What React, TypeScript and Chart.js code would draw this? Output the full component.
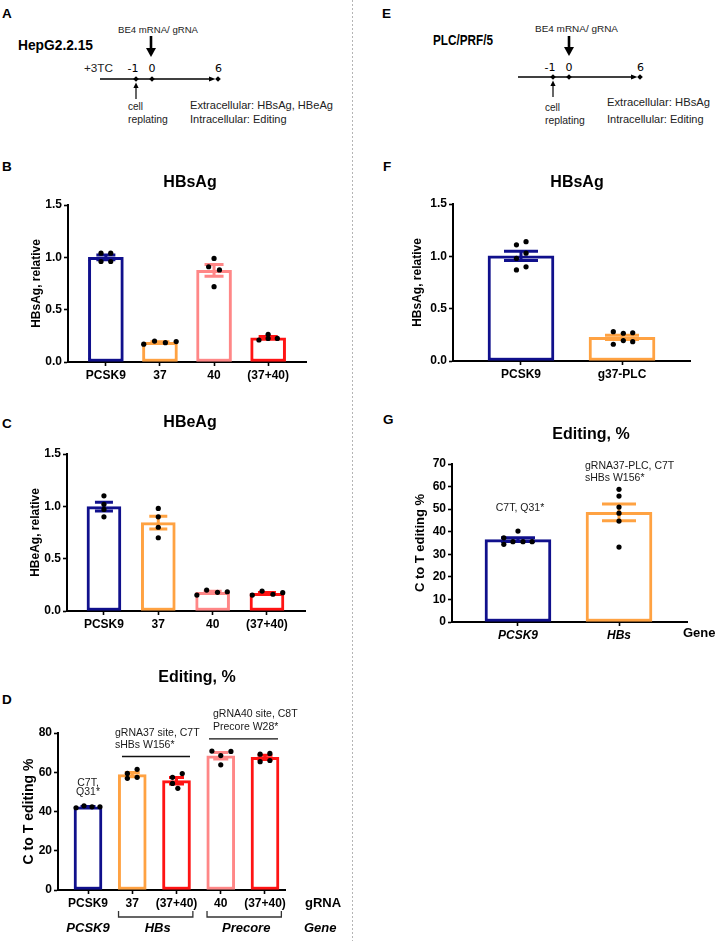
import React, { useEffect, useRef } from 'react';
import { Chart, registerables } from 'chart.js';

Chart.register(...registerables);

const FONT = "'Liberation Sans', Arial, Helvetica, sans-serif";
Chart.defaults.font.family = FONT;
Chart.defaults.color = '#000';

const NAVY = '#10108c';
const ORANGE = '#ffa242';
const PINK = '#ff8787';
const RED = '#ff1414';

// ---------- B: HBsAg (HepG2.2.15) ----------
const hbsLabels = ['PCSK9', '37', '40', '(37+40)'];
const hbsValues = [
  [1.04, 1.04, 0.96, 0.96],
  [0.17, 0.2, 0.185, 0.195],
  [0.99, 0.91, 0.88, 0.72],
  [0.21, 0.225, 0.265, 0.225],
];
const hbsJitter = [
  [-0.09, 0.09, -0.09, 0.09],
  [-0.3, -0.1, 0.1, 0.3],
  [0, -0.1, 0.1, 0],
  [-0.17, 0, 0, 0.17],
];
const hepColors = [NAVY, ORANGE, PINK, RED];
const relTicks = [0, 0.5, 1.0, 1.5];

// ---------- C: HBeAg (HepG2.2.15) ----------
const hbeLabels = ['PCSK9', '37', '40', '(37+40)'];
const hbeValues = [
  [1.1, 1.02, 0.97, 0.9],
  [0.98, 0.9, 0.8, 0.7],
  [0.152, 0.2, 0.178, 0.184],
  [0.152, 0.19, 0.16, 0.175],
];
const hbeJitter = [
  [0, 0, 0, 0],
  [0, 0, 0, 0],
  [-0.29, -0.11, 0.09, 0.27],
  [-0.27, -0.09, 0.11, 0.29],
];

// ---------- D: Editing % (HepG2.2.15) ----------
const editLabels = ['PCSK9', '37', '(37+40)', '40', '(37+40)'];
const editValues = [
  [41.9, 42.9, 42.4, 42.4],
  [59.4, 61.5, 56.9, 57.4],
  [57.4, 59.3, 54.3, 51.8],
  [70.8, 70.6, 68.5, 63.8],
  [69.2, 69.6, 65.4, 66.0],
];
const editJitter = [
  [-0.27, -0.09, 0.09, 0.27],
  [-0.11, 0.11, -0.11, 0.11],
  [-0.09, 0.13, -0.09, 0.03],
  [-0.2, 0.23, 0, 0],
  [-0.11, 0.11, -0.11, 0.11],
];
const editColors = [NAVY, ORANGE, RED, PINK, RED];
const editTicks = [0, 20, 40, 60, 80];
const editGenes = ['PCSK9', 'HBs', 'Precore'];
const editGeneSpans = [[0, 0], [1, 2], [3, 4]];
const editNotes = [
  { text: 'gRNA37 site, C7T', x: 0.61, y: 80 },
  { text: 'sHBs W156*', x: 0.61, y: 74 },
  { text: 'gRNA40 site, C8T', x: 2.825, y: 89.7 },
  { text: 'Precore W28*', x: 2.825, y: 83.1 },
  { text: 'C7T,', x: 0, y: 54.5, align: 'center' },
  { text: 'Q31*', x: 0, y: 49.9, align: 'center' },
];
const editLines = [
  { x1: 0.768, x2: 2.305, y: 68 },
  { x1: 2.734, x2: 4.294, y: 77 },
];

// ---------- F: HBsAg (PLC/PRF/5) ----------
const plcLabels = ['PCSK9', 'g37-PLC'];
const plcValues = [
  [1.11, 1.14, 1.03, 0.98, 0.87, 0.9],
  [0.28, 0.265, 0.27, 0.16, 0.195, 0.185],
];
const plcJitter = [
  [-0.045, 0.05, 0.05, -0.045, -0.045, 0.05],
  [-0.086, 0.013, 0.106, -0.086, 0.013, 0.106],
];
const plcColors = [NAVY, ORANGE];

// ---------- G: Editing % (PLC/PRF/5) ----------
const plcEditLabels = ['PCSK9', 'HBs'];
const plcEditValues = [
  [37.3, 40.3, 34.4, 35.6, 35.6, 35.6],
  [58.8, 55.8, 50.9, 48.2, 44.7, 33.2],
];
const plcEditJitter = [
  [-0.14, 0, -0.14, -0.05, 0.05, 0.14],
  [0, 0, 0, 0, 0, 0],
];
const plcEditTicks = [0, 10, 20, 30, 40, 50, 60, 70];
const plcEditNotes = [
  { text: 'C7T, Q31*', x: 0.02, y: 50.5, align: 'center' },
  { text: 'gRNA37-PLC, C7T', x: 0.663, y: 69.1 },
  { text: 'sHBs W156*', x: 0.663, y: 63.8 },
];

type Note = { text: string; x: number; y: number; align?: string };
type Seg = { x1: number; x2: number; y: number };
type Side = { text: string; x: number; y: number; font: string };

interface PanelCfg {
  box: { x: number; y: number; w: number; h: number };
  area: { l: number; t: number; r: number; b: number };
  labels: string[];
  values: number[][];
  jitter: number[][];
  colors: string[];
  yTicks: number[];
  decimals: number;
  xRange: [number, number];
  title: string;
  titleAt: [number, number];
  yTitle: string;
  yTitleSize: number;
  yTitleX: number;
  barWidth: number;
  capWidth: number;
  italicX?: boolean;
  notes?: Note[];
  lines?: Seg[];
  genes?: { names: string[]; spans: number[][] };
  side?: Side[];
}

const panelB: PanelCfg = {
  box: { x: 0, y: 150, w: 352, h: 240 },
  area: { l: 68, t: 205, r: 306, b: 362 },
  labels: hbsLabels, values: hbsValues, jitter: hbsJitter, colors: hepColors,
  yTicks: relTicks, decimals: 1, xRange: [-0.7, 3.7],
  title: 'HBsAg', titleAt: [190, 183],
  yTitle: 'HBsAg, relative', yTitleSize: 12, yTitleX: 37,
  barWidth: 35, capWidth: 19,
};

const panelC: PanelCfg = {
  box: { x: 0, y: 400, w: 352, h: 240 },
  area: { l: 67, t: 454, r: 305, b: 611 },
  labels: hbeLabels, values: hbeValues, jitter: hbeJitter, colors: hepColors,
  yTicks: relTicks, decimals: 1, xRange: [-0.68, 3.7],
  title: 'HBeAg', titleAt: [190, 423],
  yTitle: 'HBeAg, relative', yTitleSize: 12, yTitleX: 36,
  barWidth: 34, capWidth: 18,
};

const panelD: PanelCfg = {
  box: { x: 0, y: 650, w: 352, h: 291 },
  area: { l: 58, t: 733, r: 285, b: 890 },
  labels: editLabels, values: editValues, jitter: editJitter, colors: editColors,
  yTicks: editTicks, decimals: 0, xRange: [-0.678, 4.452],
  title: 'Editing, %', titleAt: [197, 678],
  yTitle: 'C to T editing %', yTitleSize: 14, yTitleX: 29,
  barWidth: 28, capWidth: 15,
  notes: editNotes, lines: editLines,
  genes: { names: editGenes, spans: editGeneSpans },
  side: [
    { text: 'gRNA', x: 305, y: 903, font: `bold 13px ${FONT}` },
    { text: 'Gene', x: 304, y: 928, font: `italic bold 13px ${FONT}` },
  ],
};

const panelF: PanelCfg = {
  box: { x: 360, y: 150, w: 356, h: 240 },
  area: { l: 453, t: 204, r: 690, b: 361 },
  labels: plcLabels, values: plcValues, jitter: plcJitter, colors: plcColors,
  yTicks: relTicks, decimals: 1, xRange: [-0.673, 1.673],
  title: 'HBsAg', titleAt: [577, 183],
  yTitle: 'HBsAg, relative', yTitleSize: 12, yTitleX: 418,
  barWidth: 66, capWidth: 34,
};

const panelG: PanelCfg = {
  box: { x: 360, y: 400, w: 356, h: 260 },
  area: { l: 452, t: 464, r: 687, b: 622 },
  labels: plcEditLabels, values: plcEditValues, jitter: plcEditJitter, colors: plcColors,
  yTicks: plcEditTicks, decimals: 0, xRange: [-0.653, 1.673],
  title: 'Editing, %', titleAt: [591, 435],
  yTitle: 'C to T editing %', yTitleSize: 13, yTitleX: 420,
  barWidth: 66, capWidth: 34, italicX: true,
  notes: plcEditNotes,
  side: [{ text: 'Gene', x: 683, y: 633, font: `bold 13px ${FONT}` }],
};

const panels = [panelB, panelC, panelD, panelF, panelG];

function summarize(vals: number[][]) {
  return vals.map((v) => {
    const n = v.length;
    const mean = v.reduce((a, b) => a + b, 0) / n;
    const sd = Math.sqrt(v.reduce((a, b) => a + (b - mean) * (b - mean), 0) / (n - 1));
    return { mean, sem: sd / Math.sqrt(n) };
  });
}

function decorPlugin(cfg: PanelCfg, stats: { mean: number; sem: number }[]) {
  return {
    id: 'decor',
    afterDatasetDraw(chart: any, args: any) {
      if (args.index !== 0) return;
      const xs = chart.scales.x;
      const ys = chart.scales.y;
      const ctx = chart.ctx;
      ctx.save();
      ctx.lineWidth = 3;
      stats.forEach((s, i) => {
        const px = xs.getPixelForValue(i);
        const top = ys.getPixelForValue(s.mean + s.sem);
        const bot = ys.getPixelForValue(Math.max(0, s.mean - s.sem));
        const hw = cfg.capWidth / 2;
        ctx.strokeStyle = cfg.colors[i];
        ctx.beginPath();
        ctx.moveTo(px, top);
        ctx.lineTo(px, bot);
        ctx.moveTo(px - hw, top);
        ctx.lineTo(px + hw, top);
        ctx.moveTo(px - hw, bot);
        ctx.lineTo(px + hw, bot);
        ctx.stroke();
      });
      ctx.restore();
    },
    afterDraw(chart: any) {
      const ctx = chart.ctx;
      const xs = chart.scales.x;
      const ys = chart.scales.y;
      const ox = cfg.box.x;
      const oy = cfg.box.y;
      ctx.save();
      ctx.fillStyle = '#000';
      ctx.textBaseline = 'middle';
      ctx.font = `bold 16px ${FONT}`;
      ctx.textAlign = 'center';
      ctx.fillText(cfg.title, cfg.titleAt[0] - ox, cfg.titleAt[1] - oy);

      ctx.font = `10.5px ${FONT}`;
      ctx.fillStyle = '#1a1a1a';
      for (const n of cfg.notes ?? []) {
        ctx.textAlign = (n.align as CanvasTextAlign) ?? 'left';
        ctx.fillText(n.text, xs.getPixelForValue(n.x), ys.getPixelForValue(n.y));
      }
      ctx.strokeStyle = '#111';
      ctx.lineWidth = 1.4;
      for (const l of cfg.lines ?? []) {
        const y = ys.getPixelForValue(l.y);
        ctx.beginPath();
        ctx.moveTo(xs.getPixelForValue(l.x1), y);
        ctx.lineTo(xs.getPixelForValue(l.x2), y);
        ctx.stroke();
      }
      if (cfg.genes) {
        const base = chart.chartArea.bottom;
        ctx.fillStyle = '#000';
        ctx.strokeStyle = '#333';
        ctx.lineWidth = 1.3;
        cfg.genes.names.forEach((name, k) => {
          const [a, b] = cfg.genes!.spans[k];
          const single = a === b;
          const xa = xs.getPixelForValue(single ? a : a - 0.31);
          const xb = xs.getPixelForValue(single ? b : b + 0.37);
          if (!single) {
            ctx.beginPath();
            ctx.moveTo(xa, base + 21);
            ctx.lineTo(xa, base + 27);
            ctx.lineTo(xb, base + 27);
            ctx.lineTo(xb, base + 21);
            ctx.stroke();
          }
          ctx.font = `italic bold 13px ${FONT}`;
          ctx.textAlign = 'center';
          ctx.fillText(name, (xa + xb) / 2 + (single ? 0 : 2), base + 38);
        });
      }
      ctx.fillStyle = '#000';
      for (const s of cfg.side ?? []) {
        ctx.font = s.font;
        ctx.textAlign = 'left';
        ctx.fillText(s.text, s.x - ox, s.y - oy);
      }
      ctx.restore();
    },
  };
}

function buildChart(canvas: HTMLCanvasElement, cfg: PanelCfg) {
  const stats = summarize(cfg.values);
  const { box, area } = cfg;
  const padL = cfg.yTitleX - box.x - (cfg.yTitleSize * 1.2) / 2;
  const yW = area.l - box.x - padL;
  const padT = area.t - box.y;
  const padR = box.x + box.w - area.r;
  const xH = box.y + box.h - area.b;
  const tickFont = { size: 12, weight: 'bold' as const };

  const bars = stats.map((s, i) => ({ x: i, y: s.mean }));
  const dots = cfg.values.flatMap((vals, i) => vals.map((v, j) => ({ x: i + cfg.jitter[i][j], y: v })));

  return new Chart(canvas, {
    type: 'bar',
    data: {
      datasets: [
        {
          type: 'bar',
          data: bars as any,
          backgroundColor: '#ffffff',
          borderColor: cfg.colors,
          borderWidth: 3,
          borderSkipped: false,
          barThickness: cfg.barWidth,
          order: 2,
        } as any,
        {
          type: 'scatter',
          data: dots as any,
          pointRadius: 2.6,
          pointBackgroundColor: '#000',
          pointBorderWidth: 0,
          order: 1,
        } as any,
      ],
    },
    options: {
      animation: false,
      responsive: false,
      events: [],
      layout: { padding: { left: padL, top: padT, right: padR, bottom: 0 } },
      plugins: { legend: { display: false }, tooltip: { enabled: false }, title: { display: false } },
      scales: {
        x: {
          type: 'linear',
          min: cfg.xRange[0],
          max: cfg.xRange[1],
          offset: false,
          grid: { display: true, drawOnChartArea: false, offset: false, tickLength: 4, tickWidth: 1.6, tickColor: '#000' },
          border: { display: true, color: '#000', width: 2 },
          ticks: {
            autoSkip: false,
            maxRotation: 0,
            minRotation: 0,
            padding: 2,
            color: '#000',
            font: cfg.italicX ? { size: 12, weight: 'bold', style: 'italic' } : tickFont,
            callback: (v: any) => cfg.labels[Math.round(Number(v))] ?? '',
          },
          afterBuildTicks: (s: any) => {
            s.ticks = cfg.labels.map((_, i) => ({ value: i }));
          },
          afterFit: (s: any) => {
            s.height = xH;
          },
        } as any,
        y: {
          type: 'linear',
          min: 0,
          max: cfg.yTicks[cfg.yTicks.length - 1],
          grid: { display: true, drawOnChartArea: false, tickLength: 4, tickWidth: 1.6, tickColor: '#000' },
          border: { display: true, color: '#000', width: 2 },
          ticks: {
            padding: 2,
            color: '#000',
            font: tickFont,
            callback: (v: any) => Number(v).toFixed(cfg.decimals),
          },
          title: {
            display: true,
            text: cfg.yTitle,
            color: '#000',
            padding: 0,
            font: { size: cfg.yTitleSize, weight: 'bold' },
          },
          afterBuildTicks: (s: any) => {
            s.ticks = cfg.yTicks.map((v) => ({ value: v }));
          },
          afterFit: (s: any) => {
            s.width = yW;
          },
        } as any,
      },
    },
    plugins: [decorPlugin(cfg, stats) as any],
  });
}

function PanelChart({ cfg }: { cfg: PanelCfg }) {
  const ref = useRef<HTMLCanvasElement>(null);
  useEffect(() => {
    if (!ref.current) return;
    const chart = buildChart(ref.current, cfg);
    return () => chart.destroy();
  }, [cfg]);
  const { box } = cfg;
  return (
    <canvas
      ref={ref}
      width={box.w}
      height={box.h}
      style={{ position: 'absolute', left: box.x, top: box.y, width: box.w, height: box.h }}
    />
  );
}

const diamond = (cx: number, cy: number, r = 2.8) =>
  `${cx},${cy - r} ${cx + r},${cy} ${cx},${cy + r} ${cx - r},${cy}`;

interface TimelineCfg {
  name: string; nameX: number; nameY: number; nameLen: number;
  be4X: number; be4Y: number; be4Len: number;
  arrowX: number; arrowTop: number; arrowBot: number;
  pre?: { text: string; x: number; len: number };
  numY: number; days: number[]; lineY: number; lineStart: number;
  cellX: number; cellY: number; repY: number;
  ext: string; extX: number; extY: number; extLen: number; intY: number;
}

const timelineA: TimelineCfg = {
  name: 'HepG2.2.15', nameX: 18, nameY: 50, nameLen: 75,
  be4X: 118, be4Y: 32.5, be4Len: 80,
  arrowX: 151, arrowTop: 36, arrowBot: 57,
  pre: { text: '+3TC', x: 84, len: 29 },
  numY: 72, days: [136, 152, 218], lineY: 79, lineStart: 100,
  cellX: 128, cellY: 110, repY: 123,
  ext: 'Extracellular: HBsAg, HBeAg', extX: 190, extY: 109, extLen: 143, intY: 123,
};

const timelineE: TimelineCfg = {
  name: 'PLC/PRF/5', nameX: 433, nameY: 45, nameLen: 60,
  be4X: 535, be4Y: 31.5, be4Len: 83,
  arrowX: 569, arrowTop: 36, arrowBot: 56,
  numY: 70.5, days: [553, 569, 640], lineY: 77, lineStart: 518,
  cellX: 545, cellY: 111, repY: 124,
  ext: 'Extracellular: HBsAg', extX: 607, extY: 106, extLen: 103, intY: 123,
};

const dayLabels = ['-1', '0', '6'];
const dayLabelShift = [-3, 0, 0.5];

function Timeline({ t }: { t: TimelineCfg }) {
  const last = t.days[t.days.length - 1];
  return (
    <g fill="#000" fontFamily={FONT}>
      <text x={t.nameX} y={t.nameY} fontSize={14} fontWeight="bold" textLength={t.nameLen} lengthAdjust="spacingAndGlyphs">
        {t.name}
      </text>
      <text x={t.be4X} y={t.be4Y} fontSize={9.6} textLength={t.be4Len} lengthAdjust="spacingAndGlyphs" fill="#222">
        BE4 mRNA/ gRNA
      </text>
      <line x1={t.arrowX} y1={t.arrowTop} x2={t.arrowX} y2={t.arrowBot - 8} stroke="#000" strokeWidth={2.6} />
      <polygon points={`${t.arrowX - 5},${t.arrowBot - 9} ${t.arrowX + 5},${t.arrowBot - 9} ${t.arrowX},${t.arrowBot}`} />
      {t.pre && (
        <text x={t.pre.x} y={t.numY} fontSize={10.5} textLength={t.pre.len} lengthAdjust="spacingAndGlyphs" fill="#222">
          {t.pre.text}
        </text>
      )}
      {t.days.map((d, i) => (
        <text key={i} x={d + dayLabelShift[i]} y={t.numY} fontSize={11} textAnchor="middle" fontFamily="'DejaVu Sans', sans-serif">
          {dayLabels[i]}
        </text>
      ))}
      <line x1={t.lineStart} y1={t.lineY} x2={last - 6} y2={t.lineY} stroke="#000" strokeWidth={1.3} />
      <polygon points={`${last - 9},${t.lineY - 2.6} ${last - 2.5},${t.lineY} ${last - 9},${t.lineY + 2.6}`} />
      {t.days.map((d, i) => (
        <polygon key={'d' + i} points={diamond(d, t.lineY)} />
      ))}
      <line x1={t.days[0]} y1={t.lineY + 20} x2={t.days[0]} y2={t.lineY + 8} stroke="#000" strokeWidth={1.2} />
      <polygon points={`${t.days[0] - 2.6},${t.lineY + 9} ${t.days[0] + 2.6},${t.lineY + 9} ${t.days[0]},${t.lineY + 3.5}`} />
      <text x={t.cellX} y={t.cellY} fontSize={10} fill="#222">cell</text>
      <text x={t.cellX} y={t.repY} fontSize={10.4} fill="#222">replating</text>
      <text x={t.extX} y={t.extY} fontSize={11} textLength={t.extLen} lengthAdjust="spacingAndGlyphs" fill="#222">
        {t.ext}
      </text>
      <text x={t.extX} y={t.intY} fontSize={11} fill="#222">Intracellular: Editing</text>
    </g>
  );
}

const panelLetters = [
  { c: 'A', x: 2, y: 18 },
  { c: 'B', x: 2, y: 171 },
  { c: 'C', x: 2, y: 428 },
  { c: 'D', x: 2, y: 704 },
  { c: 'E', x: 382, y: 18 },
  { c: 'F', x: 383, y: 171 },
  { c: 'G', x: 383, y: 424 },
];

export default function App() {
  return (
    <div style={{ position: 'absolute', left: 0, top: 0, width: 716, height: 941, background: '#fff', overflow: 'hidden' }}>
      <svg width={716} height={941} style={{ position: 'absolute', left: 0, top: 0 }}>
        <line x1={352.5} y1={0} x2={352.5} y2={941} stroke="#b5b5b5" strokeWidth={1} strokeDasharray="2 2" />
        {panelLetters.map((p) => (
          <text key={p.c} x={p.x} y={p.y} fontFamily={FONT} fontWeight="bold" fontSize={13.5}>
            {p.c}
          </text>
        ))}
        <Timeline t={timelineA} />
        <Timeline t={timelineE} />
      </svg>
      {panels.map((p, i) => (
        <PanelChart key={i} cfg={p} />
      ))}
    </div>
  );
}
